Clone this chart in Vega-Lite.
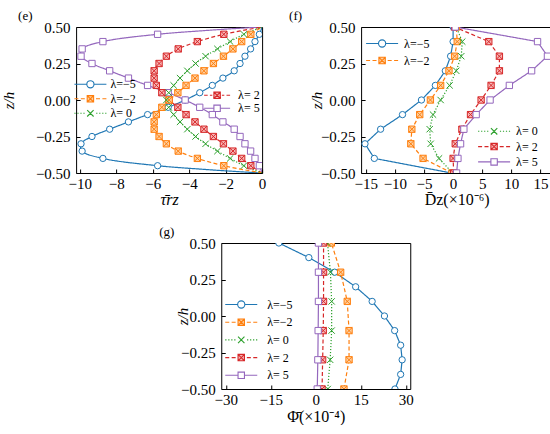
{
  "$schema": "https://vega.github.io/schema/vega-lite/v6.json",
  "padding": {"left": 0, "top": 9, "right": 0, "bottom": 0},
  "background": "white",
  "config": {
    "font": "Liberation Serif",
    "view": {"stroke": "black", "strokeWidth": 1},
    "axis": {
      "grid": false, "domain": false, "ticks": true, "tickSize": -4, "tickColor": "black", "tickWidth": 1,
      "labelFont": "Liberation Serif", "labelFontSize": 15, "labelColor": "black", "labelFlush": false, "labelOverlap": false,
      "titleFont": "Liberation Serif", "titleFontSize": 16, "titleFontWeight": "normal", "titleColor": "black"
    },
    "axisX": {"labelPadding": 7},
    "axisY": {"labelPadding": 10},
    "legend": {"labelFont": "Liberation Serif", "labelFontSize": 12, "labelColor": "black"},
    "title": {"font": "Liberation Serif", "fontSize": 13, "fontWeight": "normal", "color": "black", "anchor": "start", "frame": "group", "offset": -3}
  },
  "datasets": {
    "rows": [
      {"panel": "e", "lam": "λ=−5", "z": 0.5, "v": 0},
      {"panel": "e", "lam": "λ=−5", "z": 0.45, "v": -0.15},
      {"panel": "e", "lam": "λ=−5", "z": 0.4, "v": -0.39},
      {"panel": "e", "lam": "λ=−5", "z": 0.35, "v": -0.63},
      {"panel": "e", "lam": "λ=−5", "z": 0.3, "v": -0.94},
      {"panel": "e", "lam": "λ=−5", "z": 0.25, "v": -1.21},
      {"panel": "e", "lam": "λ=−5", "z": 0.2, "v": -1.53},
      {"panel": "e", "lam": "λ=−5", "z": 0.15, "v": -2.15},
      {"panel": "e", "lam": "λ=−5", "z": 0.1, "v": -2.73},
      {"panel": "e", "lam": "λ=−5", "z": 0.05, "v": -3.42},
      {"panel": "e", "lam": "λ=−5", "z": 0, "v": -4.22},
      {"panel": "e", "lam": "λ=−5", "z": -0.05, "v": -5.15},
      {"panel": "e", "lam": "λ=−5", "z": -0.1, "v": -6.28},
      {"panel": "e", "lam": "λ=−5", "z": -0.15, "v": -7.33},
      {"panel": "e", "lam": "λ=−5", "z": -0.2, "v": -8.36},
      {"panel": "e", "lam": "λ=−5", "z": -0.25, "v": -9.33},
      {"panel": "e", "lam": "λ=−5", "z": -0.3, "v": -9.93},
      {"panel": "e", "lam": "λ=−5", "z": -0.35, "v": -9.87},
      {"panel": "e", "lam": "λ=−5", "z": -0.4, "v": -8.73},
      {"panel": "e", "lam": "λ=−5", "z": -0.45, "v": -5.73},
      {"panel": "e", "lam": "λ=−5", "z": -0.475, "v": -3.2},
      {"panel": "e", "lam": "λ=−5", "z": -0.49, "v": -1.4},
      {"panel": "e", "lam": "λ=−5", "z": -0.5, "v": 0},
      {"panel": "e", "lam": "λ= 5", "z": 0.5, "v": 0},
      {"panel": "e", "lam": "λ= 5", "z": 0.49, "v": -1.4},
      {"panel": "e", "lam": "λ= 5", "z": 0.475, "v": -3.2},
      {"panel": "e", "lam": "λ= 5", "z": 0.45, "v": -5.73},
      {"panel": "e", "lam": "λ= 5", "z": 0.4, "v": -8.73},
      {"panel": "e", "lam": "λ= 5", "z": 0.35, "v": -9.87},
      {"panel": "e", "lam": "λ= 5", "z": 0.3, "v": -9.93},
      {"panel": "e", "lam": "λ= 5", "z": 0.25, "v": -9.33},
      {"panel": "e", "lam": "λ= 5", "z": 0.2, "v": -8.36},
      {"panel": "e", "lam": "λ= 5", "z": 0.15, "v": -7.33},
      {"panel": "e", "lam": "λ= 5", "z": 0.1, "v": -6.28},
      {"panel": "e", "lam": "λ= 5", "z": 0.05, "v": -5.15},
      {"panel": "e", "lam": "λ= 5", "z": 0, "v": -4.22},
      {"panel": "e", "lam": "λ= 5", "z": -0.05, "v": -3.42},
      {"panel": "e", "lam": "λ= 5", "z": -0.1, "v": -2.73},
      {"panel": "e", "lam": "λ= 5", "z": -0.15, "v": -2.15},
      {"panel": "e", "lam": "λ= 5", "z": -0.2, "v": -1.53},
      {"panel": "e", "lam": "λ= 5", "z": -0.25, "v": -1.21},
      {"panel": "e", "lam": "λ= 5", "z": -0.3, "v": -0.94},
      {"panel": "e", "lam": "λ= 5", "z": -0.35, "v": -0.63},
      {"panel": "e", "lam": "λ= 5", "z": -0.4, "v": -0.39},
      {"panel": "e", "lam": "λ= 5", "z": -0.45, "v": -0.15},
      {"panel": "e", "lam": "λ= 5", "z": -0.5, "v": 0},
      {"panel": "e", "lam": "λ= 2", "z": 0.5, "v": 0},
      {"panel": "e", "lam": "λ= 2", "z": 0.45, "v": -2.1},
      {"panel": "e", "lam": "λ= 2", "z": 0.4, "v": -3.55},
      {"panel": "e", "lam": "λ= 2", "z": 0.35, "v": -4.6},
      {"panel": "e", "lam": "λ= 2", "z": 0.3, "v": -5.25},
      {"panel": "e", "lam": "λ= 2", "z": 0.25, "v": -5.65},
      {"panel": "e", "lam": "λ= 2", "z": 0.2, "v": -5.92},
      {"panel": "e", "lam": "λ= 2", "z": 0.15, "v": -5.92},
      {"panel": "e", "lam": "λ= 2", "z": 0.1, "v": -5.8},
      {"panel": "e", "lam": "λ= 2", "z": 0.05, "v": -5.5},
      {"panel": "e", "lam": "λ= 2", "z": 0, "v": -5.1},
      {"panel": "e", "lam": "λ= 2", "z": -0.05, "v": -4.62},
      {"panel": "e", "lam": "λ= 2", "z": -0.1, "v": -4.17},
      {"panel": "e", "lam": "λ= 2", "z": -0.15, "v": -3.68},
      {"panel": "e", "lam": "λ= 2", "z": -0.2, "v": -3.19},
      {"panel": "e", "lam": "λ= 2", "z": -0.25, "v": -2.67},
      {"panel": "e", "lam": "λ= 2", "z": -0.3, "v": -2.12},
      {"panel": "e", "lam": "λ= 2", "z": -0.35, "v": -1.6},
      {"panel": "e", "lam": "λ= 2", "z": -0.4, "v": -1.12},
      {"panel": "e", "lam": "λ= 2", "z": -0.45, "v": -0.62},
      {"panel": "e", "lam": "λ= 2", "z": -0.5, "v": 0},
      {"panel": "e", "lam": "λ=−2", "z": 0.5, "v": 0},
      {"panel": "e", "lam": "λ=−2", "z": 0.45, "v": -0.62},
      {"panel": "e", "lam": "λ=−2", "z": 0.4, "v": -1.12},
      {"panel": "e", "lam": "λ=−2", "z": 0.35, "v": -1.6},
      {"panel": "e", "lam": "λ=−2", "z": 0.3, "v": -2.12},
      {"panel": "e", "lam": "λ=−2", "z": 0.25, "v": -2.67},
      {"panel": "e", "lam": "λ=−2", "z": 0.2, "v": -3.19},
      {"panel": "e", "lam": "λ=−2", "z": 0.15, "v": -3.68},
      {"panel": "e", "lam": "λ=−2", "z": 0.1, "v": -4.17},
      {"panel": "e", "lam": "λ=−2", "z": 0.05, "v": -4.62},
      {"panel": "e", "lam": "λ=−2", "z": 0, "v": -5.1},
      {"panel": "e", "lam": "λ=−2", "z": -0.05, "v": -5.5},
      {"panel": "e", "lam": "λ=−2", "z": -0.1, "v": -5.8},
      {"panel": "e", "lam": "λ=−2", "z": -0.15, "v": -5.92},
      {"panel": "e", "lam": "λ=−2", "z": -0.2, "v": -5.92},
      {"panel": "e", "lam": "λ=−2", "z": -0.25, "v": -5.65},
      {"panel": "e", "lam": "λ=−2", "z": -0.3, "v": -5.25},
      {"panel": "e", "lam": "λ=−2", "z": -0.35, "v": -4.6},
      {"panel": "e", "lam": "λ=−2", "z": -0.4, "v": -3.55},
      {"panel": "e", "lam": "λ=−2", "z": -0.45, "v": -2.1},
      {"panel": "e", "lam": "λ=−2", "z": -0.5, "v": 0},
      {"panel": "e", "lam": "λ= 0", "z": 0.5, "v": 0},
      {"panel": "e", "lam": "λ= 0", "z": 0.45, "v": -1.0},
      {"panel": "e", "lam": "λ= 0", "z": 0.4, "v": -1.75},
      {"panel": "e", "lam": "λ= 0", "z": 0.35, "v": -2.45},
      {"panel": "e", "lam": "λ= 0", "z": 0.3, "v": -3.1},
      {"panel": "e", "lam": "λ= 0", "z": 0.25, "v": -3.65},
      {"panel": "e", "lam": "λ= 0", "z": 0.2, "v": -4.1},
      {"panel": "e", "lam": "λ= 0", "z": 0.15, "v": -4.5},
      {"panel": "e", "lam": "λ= 0", "z": 0.1, "v": -4.85},
      {"panel": "e", "lam": "λ= 0", "z": 0.05, "v": -5.12},
      {"panel": "e", "lam": "λ= 0", "z": 0, "v": -5.25},
      {"panel": "e", "lam": "λ= 0", "z": -0.05, "v": -5.12},
      {"panel": "e", "lam": "λ= 0", "z": -0.1, "v": -4.85},
      {"panel": "e", "lam": "λ= 0", "z": -0.15, "v": -4.5},
      {"panel": "e", "lam": "λ= 0", "z": -0.2, "v": -4.1},
      {"panel": "e", "lam": "λ= 0", "z": -0.25, "v": -3.65},
      {"panel": "e", "lam": "λ= 0", "z": -0.3, "v": -3.1},
      {"panel": "e", "lam": "λ= 0", "z": -0.35, "v": -2.45},
      {"panel": "e", "lam": "λ= 0", "z": -0.4, "v": -1.75},
      {"panel": "e", "lam": "λ= 0", "z": -0.45, "v": -1.0},
      {"panel": "e", "lam": "λ= 0", "z": -0.5, "v": 0},

      {"panel": "f", "lam": "λ=−5", "z": 0.5, "v": 0.0},
      {"panel": "f", "lam": "λ=−5", "z": 0.4, "v": 0.0},
      {"panel": "f", "lam": "λ=−5", "z": 0.3, "v": -0.43},
      {"panel": "f", "lam": "λ=−5", "z": 0.2, "v": -1.34},
      {"panel": "f", "lam": "λ=−5", "z": 0.1, "v": -3.05},
      {"panel": "f", "lam": "λ=−5", "z": 0, "v": -5.44},
      {"panel": "f", "lam": "λ=−5", "z": -0.1, "v": -8.69},
      {"panel": "f", "lam": "λ=−5", "z": -0.2, "v": -12.45},
      {"panel": "f", "lam": "λ=−5", "z": -0.3, "v": -15.13},
      {"panel": "f", "lam": "λ=−5", "z": -0.4, "v": -13.53},
      {"panel": "f", "lam": "λ=−5", "z": -0.5, "v": -0.3},
      {"panel": "f", "lam": "λ=−2", "z": 0.5, "v": 0.54},
      {"panel": "f", "lam": "λ=−2", "z": 0.4, "v": 0.71},
      {"panel": "f", "lam": "λ=−2", "z": 0.3, "v": 0.26},
      {"panel": "f", "lam": "λ=−2", "z": 0.2, "v": -0.71},
      {"panel": "f", "lam": "λ=−2", "z": 0.1, "v": -2.14},
      {"panel": "f", "lam": "λ=−2", "z": 0, "v": -3.9},
      {"panel": "f", "lam": "λ=−2", "z": -0.1, "v": -5.73},
      {"panel": "f", "lam": "λ=−2", "z": -0.2, "v": -7.09},
      {"panel": "f", "lam": "λ=−2", "z": -0.3, "v": -7.26},
      {"panel": "f", "lam": "λ=−2", "z": -0.4, "v": -5.16},
      {"panel": "f", "lam": "λ=−2", "z": -0.5, "v": -0.2},
      {"panel": "f", "lam": "λ= 0", "z": 0.5, "v": 0.54},
      {"panel": "f", "lam": "λ= 0", "z": 0.4, "v": 1.57},
      {"panel": "f", "lam": "λ= 0", "z": 0.3, "v": 1.4},
      {"panel": "f", "lam": "λ= 0", "z": 0.2, "v": 0.54},
      {"panel": "f", "lam": "λ= 0", "z": 0.1, "v": -0.6},
      {"panel": "f", "lam": "λ= 0", "z": 0, "v": -2.14},
      {"panel": "f", "lam": "λ= 0", "z": -0.1, "v": -3.45},
      {"panel": "f", "lam": "λ= 0", "z": -0.2, "v": -4.02},
      {"panel": "f", "lam": "λ= 0", "z": -0.3, "v": -3.85},
      {"panel": "f", "lam": "λ= 0", "z": -0.4, "v": -2.42},
      {"panel": "f", "lam": "λ= 0", "z": -0.5, "v": -0.1},
      {"panel": "f", "lam": "λ= 2", "z": 0.5, "v": 0.26},
      {"panel": "f", "lam": "λ= 2", "z": 0.4, "v": 6.13},
      {"panel": "f", "lam": "λ= 2", "z": 0.3, "v": 7.95},
      {"panel": "f", "lam": "λ= 2", "z": 0.2, "v": 7.95},
      {"panel": "f", "lam": "λ= 2", "z": 0.1, "v": 6.52},
      {"panel": "f", "lam": "λ= 2", "z": 0, "v": 4.81},
      {"panel": "f", "lam": "λ= 2", "z": -0.1, "v": 2.99},
      {"panel": "f", "lam": "λ= 2", "z": -0.2, "v": 1.51},
      {"panel": "f", "lam": "λ= 2", "z": -0.3, "v": 0.37},
      {"panel": "f", "lam": "λ= 2", "z": -0.4, "v": 0.0},
      {"panel": "f", "lam": "λ= 2", "z": -0.5, "v": 0.1},
      {"panel": "f", "lam": "λ= 5", "z": 0.5, "v": 0.37},
      {"panel": "f", "lam": "λ= 5", "z": 0.4, "v": 14.5},
      {"panel": "f", "lam": "λ= 5", "z": 0.3, "v": 16.2},
      {"panel": "f", "lam": "λ= 5", "z": 0.2, "v": 13.48},
      {"panel": "f", "lam": "λ= 5", "z": 0.1, "v": 9.66},
      {"panel": "f", "lam": "λ= 5", "z": 0, "v": 6.35},
      {"panel": "f", "lam": "λ= 5", "z": -0.1, "v": 3.96},
      {"panel": "f", "lam": "λ= 5", "z": -0.2, "v": 1.85},
      {"panel": "f", "lam": "λ= 5", "z": -0.3, "v": 1.28},
      {"panel": "f", "lam": "λ= 5", "z": -0.4, "v": 0.83},
      {"panel": "f", "lam": "λ= 5", "z": -0.5, "v": 0.6},

      {"panel": "g", "lam": "λ=−5", "z": 0.5, "v": -12.3},
      {"panel": "g", "lam": "λ=−5", "z": 0.4, "v": -2.3},
      {"panel": "g", "lam": "λ=−5", "z": 0.3, "v": 6.3},
      {"panel": "g", "lam": "λ=−5", "z": 0.2, "v": 13.3},
      {"panel": "g", "lam": "λ=−5", "z": 0.1, "v": 18.8},
      {"panel": "g", "lam": "λ=−5", "z": 0, "v": 22.9},
      {"panel": "g", "lam": "λ=−5", "z": -0.1, "v": 26.3},
      {"panel": "g", "lam": "λ=−5", "z": -0.2, "v": 28.3},
      {"panel": "g", "lam": "λ=−5", "z": -0.3, "v": 28.8},
      {"panel": "g", "lam": "λ=−5", "z": -0.4, "v": 28.3},
      {"panel": "g", "lam": "λ=−5", "z": -0.5, "v": 26.4},
      {"panel": "g", "lam": "λ=−2", "z": 0.5, "v": 5.2},
      {"panel": "g", "lam": "λ=−2", "z": 0.3, "v": 8.3},
      {"panel": "g", "lam": "λ=−2", "z": 0.1, "v": 10.5},
      {"panel": "g", "lam": "λ=−2", "z": -0.1, "v": 11.1},
      {"panel": "g", "lam": "λ=−2", "z": -0.3, "v": 11.1},
      {"panel": "g", "lam": "λ=−2", "z": -0.5, "v": 9.4},
      {"panel": "g", "lam": "λ= 0", "z": 0.5, "v": 3.9},
      {"panel": "g", "lam": "λ= 0", "z": 0.3, "v": 4.9},
      {"panel": "g", "lam": "λ= 0", "z": 0.1, "v": 5.3},
      {"panel": "g", "lam": "λ= 0", "z": -0.1, "v": 5.3},
      {"panel": "g", "lam": "λ= 0", "z": -0.3, "v": 4.8},
      {"panel": "g", "lam": "λ= 0", "z": -0.5, "v": 4.0},
      {"panel": "g", "lam": "λ= 2", "z": 0.5, "v": 2.6},
      {"panel": "g", "lam": "λ= 2", "z": 0.3, "v": 2.6},
      {"panel": "g", "lam": "λ= 2", "z": 0.1, "v": 2.6},
      {"panel": "g", "lam": "λ= 2", "z": -0.1, "v": 2.5},
      {"panel": "g", "lam": "λ= 2", "z": -0.3, "v": 2.3},
      {"panel": "g", "lam": "λ= 2", "z": -0.5, "v": 2.1},
      {"panel": "g", "lam": "λ= 5", "z": 0.5, "v": 0.9},
      {"panel": "g", "lam": "λ= 5", "z": 0.3, "v": 0.9},
      {"panel": "g", "lam": "λ= 5", "z": 0.1, "v": 0.9},
      {"panel": "g", "lam": "λ= 5", "z": -0.1, "v": 0.8},
      {"panel": "g", "lam": "λ= 5", "z": -0.3, "v": 0.7},
      {"panel": "g", "lam": "λ= 5", "z": -0.5, "v": 0.5}
    ]
  },
  "data": {"name": "rows"},
  "spacing": 17,
  "center": true,
  "vconcat": [
    {
      "spacing": 14,
      "hconcat": [
        {
          "width": 186, "height": 146,
          "title": {"text": "(e)", "dx": -58},
          "transform": [{"filter": "datum.panel == 'e'"}],
          "encoding": {
            "x": {"field": "v", "type": "quantitative", "scale": {"domain": [-10.2, 0], "nice": false, "zero": false},
              "axis": {"values": [-10, -8, -6, -4, -2, 0], "title": "τ̄rz", "titleFontStyle": "italic", "titlePadding": 0,
                "encode": {"labels": {"update": {"dx": {"signal": "datum.value < 0 ? -4 : 0"}}}}}},
            "y": {"field": "z", "type": "quantitative", "scale": {"domain": [-0.5, 0.5], "nice": false, "zero": false},
              "axis": {"values": [-0.5, -0.25, 0, 0.25, 0.5], "format": ".2f", "title": "z/h", "titleFontStyle": "italic", "titleFontSize": 15, "titlePadding": 19}}
          },
          "layer": [
            {
              "mark": {"type": "line", "strokeWidth": 1.2, "clip": true, "interpolate": "catmull-rom"},
              "encoding": {
                "color": {"field": "lam", "type": "nominal", "scale": {"domain": ["λ=−5", "λ=−2", "λ= 0", "λ= 2", "λ= 5"], "range": ["#1f77b4", "#ff7f0e", "#2ca02c", "#d62728", "#9467bd"]}, "legend": null},
                "strokeDash": {"field": "lam", "type": "nominal", "scale": {"domain": ["λ=−5", "λ=−2", "λ= 0", "λ= 2", "λ= 5"], "range": [[1, 0], [4, 2.5], [1.2, 1.8], [4, 2.5], [1, 0]]}, "legend": null},
                "order": {"field": "z", "type": "quantitative"}
              }
            },
            {
              "transform": [{"filter": "abs(datum.z) < 0.46"}],
              "mark": {"type": "point", "filled": true, "size": 40, "strokeWidth": 1, "opacity": 1, "clip": true},
              "encoding": {
                "shape": {"field": "lam", "type": "nominal", "scale": {"domain": ["λ=−5", "λ=−2", "λ= 0", "λ= 2", "λ= 5"], "range": ["circle", "M-1,-1H1V1H-1ZM-1,-1L1,1M1,-1L-1,1", "M-1,-1L1,1M1,-1L-1,1", "M-1,-1H1V1H-1ZM-1,-1L1,1M1,-1L-1,1", "square"]}, "legend": null},
                "stroke": {"field": "lam", "type": "nominal", "scale": {"domain": ["λ=−5", "λ=−2", "λ= 0", "λ= 2", "λ= 5"], "range": ["#1f77b4", "#ff7f0e", "#2ca02c", "#d62728", "#9467bd"]}, "legend": null},
                "fill": {"field": "lam", "type": "nominal", "scale": {"domain": ["λ=−5", "λ=−2", "λ= 0", "λ= 2", "λ= 5"], "range": ["white", "#fdd0a2", "white", "#f7b6b6", "white"]}, "legend": null}
              }
            },
            {
              "transform": [{"filter": {"field": "lam", "oneOf": ["λ=−5", "λ=−2", "λ= 0"]}}],
              "mark": {"type": "point", "filled": true, "opacity": 0, "strokeWidth": 1.1},
              "encoding": {
                "shape": {"field": "lam", "type": "nominal", "scale": {"domain": ["λ=−5", "λ=−2", "λ= 0"], "range": [
                  "M-4,0H-0.9M0.9,0H4M0.9,0A0.9,0.9 0 1,1 -0.9,0A0.9,0.9 0 1,1 0.9,0Z",
                  "M-4,0H-3M-2.4,0H-1.4M1.4,0H2.4M3,0H4M-0.8,-0.8H0.8V0.8H-0.8ZM-0.8,-0.8L0.8,0.8M0.8,-0.8L-0.8,0.8",
                  "M-4,0H-3.7M-3.25,0H-2.95M-2.5,0H-2.2M-1.75,0H-1.45M1.45,0H1.75M2.2,0H2.5M2.95,0H3.25M3.7,0H4M-0.8,-0.8L0.8,0.8M0.8,-0.8L-0.8,0.8"]},
                  "legend": {"orient": "none", "legendX": 8.3, "legendY": 51.3, "direction": "vertical", "title": null, "symbolSize": 64, "symbolStrokeWidth": 1.1, "labelOffset": 14, "rowPadding": 2.5, "padding": 0, "encode": {"symbols": {"update": {"opacity": {"value": 1}}}}}},
                "stroke": {"field": "lam", "type": "nominal", "scale": {"domain": ["λ=−5", "λ=−2", "λ= 0"], "range": ["#1f77b4", "#ff7f0e", "#2ca02c"]},
                  "legend": {"orient": "none", "legendX": 8.3, "legendY": 51.3, "direction": "vertical", "title": null, "symbolSize": 64, "symbolStrokeWidth": 1.1, "labelOffset": 14, "rowPadding": 2.5, "padding": 0, "encode": {"symbols": {"update": {"opacity": {"value": 1}}}}}},
                "fill": {"field": "lam", "type": "nominal", "scale": {"domain": ["λ=−5", "λ=−2", "λ= 0"], "range": ["white", "#fdd0a2", "white"]},
                  "legend": {"orient": "none", "legendX": 8.3, "legendY": 51.3, "direction": "vertical", "title": null, "symbolSize": 64, "symbolStrokeWidth": 1.1, "labelOffset": 14, "rowPadding": 2.5, "padding": 0, "encode": {"symbols": {"update": {"opacity": {"value": 1}}}}}}
              }
            },
            {
              "transform": [{"filter": {"field": "lam", "oneOf": ["λ= 2", "λ= 5"]}}],
              "mark": {"type": "point", "filled": true, "opacity": 0, "strokeWidth": 1.1},
              "encoding": {
                "shape": {"field": "lam", "type": "nominal", "scale": {"domain": ["λ= 2", "λ= 5"], "range": [
                  "M-3.25,0H-2.35M-1.8,0H-1.2M1.2,0H1.8M2.35,0H3.25M-0.8,-0.8H0.8V0.8H-0.8ZM-0.8,-0.8L0.8,0.8M0.8,-0.8L-0.8,0.8",
                  "M-3.25,0H-0.8M0.8,0H3.25M-0.8,-0.8H0.8V0.8H-0.8Z"]},
                  "legend": {"orient": "none", "legendX": 135, "legendY": 62.3, "direction": "vertical", "title": null, "symbolSize": 64, "symbolStrokeWidth": 1.1, "labelOffset": 15, "rowPadding": 1, "padding": 0, "encode": {"symbols": {"update": {"opacity": {"value": 1}}}}}},
                "stroke": {"field": "lam", "type": "nominal", "scale": {"domain": ["λ= 2", "λ= 5"], "range": ["#d62728", "#9467bd"]},
                  "legend": {"orient": "none", "legendX": 135, "legendY": 62.3, "direction": "vertical", "title": null, "symbolSize": 64, "symbolStrokeWidth": 1.1, "labelOffset": 15, "rowPadding": 1, "padding": 0, "encode": {"symbols": {"update": {"opacity": {"value": 1}}}}}},
                "fill": {"field": "lam", "type": "nominal", "scale": {"domain": ["λ= 2", "λ= 5"], "range": ["#f7b6b6", "white"]},
                  "legend": {"orient": "none", "legendX": 135, "legendY": 62.3, "direction": "vertical", "title": null, "symbolSize": 64, "symbolStrokeWidth": 1.1, "labelOffset": 15, "rowPadding": 1, "padding": 0, "encode": {"symbols": {"update": {"opacity": {"value": 1}}}}}}
              }
            }
          ],
          "resolve": {
            "scale": {"color": "independent", "stroke": "independent", "fill": "independent", "shape": "independent", "strokeDash": "independent"},
            "legend": {"stroke": "independent", "fill": "independent", "shape": "independent"}
          }
        },
        {
          "width": 191, "height": 146,
          "title": {"text": "(f)", "dx": -72},
          "transform": [{"filter": "datum.panel == 'f'"}],
          "encoding": {
            "x": {"field": "v", "type": "quantitative", "scale": {"domain": [-15.8, 17], "nice": false, "zero": false},
              "axis": {"values": [-15, -10, -5, 0, 5, 10, 15], "title": "D̄z(×10⁻⁶)", "titlePadding": 0,
                "encode": {"labels": {"update": {"dx": {"signal": "datum.value < 0 ? -4 : 0"}}}}}},
            "y": {"field": "z", "type": "quantitative", "scale": {"domain": [-0.5, 0.5], "nice": false, "zero": false},
              "axis": {"values": [-0.5, -0.25, 0, 0.25, 0.5], "format": ".2f", "title": "z/h", "titleFontStyle": "italic", "titleFontSize": 15, "titlePadding": -4}}
          },
          "layer": [
            {
              "mark": {"type": "line", "strokeWidth": 1.2, "clip": true},
              "encoding": {
                "color": {"field": "lam", "type": "nominal", "scale": {"domain": ["λ=−5", "λ=−2", "λ= 0", "λ= 2", "λ= 5"], "range": ["#1f77b4", "#ff7f0e", "#2ca02c", "#d62728", "#9467bd"]}, "legend": null},
                "strokeDash": {"field": "lam", "type": "nominal", "scale": {"domain": ["λ=−5", "λ=−2", "λ= 0", "λ= 2", "λ= 5"], "range": [[1, 0], [4, 2.5], [1.2, 1.8], [4, 2.5], [1, 0]]}, "legend": null},
                "order": {"field": "z", "type": "quantitative"}
              }
            },
            {
              "mark": {"type": "point", "filled": true, "size": 40, "strokeWidth": 1, "opacity": 1, "clip": true},
              "encoding": {
                "shape": {"field": "lam", "type": "nominal", "scale": {"domain": ["λ=−5", "λ=−2", "λ= 0", "λ= 2", "λ= 5"], "range": ["circle", "M-1,-1H1V1H-1ZM-1,-1L1,1M1,-1L-1,1", "M-1,-1L1,1M1,-1L-1,1", "M-1,-1H1V1H-1ZM-1,-1L1,1M1,-1L-1,1", "square"]}, "legend": null},
                "stroke": {"field": "lam", "type": "nominal", "scale": {"domain": ["λ=−5", "λ=−2", "λ= 0", "λ= 2", "λ= 5"], "range": ["#1f77b4", "#ff7f0e", "#2ca02c", "#d62728", "#9467bd"]}, "legend": null},
                "fill": {"field": "lam", "type": "nominal", "scale": {"domain": ["λ=−5", "λ=−2", "λ= 0", "λ= 2", "λ= 5"], "range": ["white", "#fdd0a2", "white", "#f7b6b6", "white"]}, "legend": null}
              }
            },
            {
              "transform": [{"filter": {"field": "lam", "oneOf": ["λ=−5", "λ=−2"]}}],
              "mark": {"type": "point", "filled": true, "opacity": 0, "strokeWidth": 1.1},
              "encoding": {
                "shape": {"field": "lam", "type": "nominal", "scale": {"domain": ["λ=−5", "λ=−2"], "range": [
                  "M-4,0H-0.9M0.9,0H4M0.9,0A0.9,0.9 0 1,1 -0.9,0A0.9,0.9 0 1,1 0.9,0Z",
                  "M-4,0H-3M-2.4,0H-1.4M1.4,0H2.4M3,0H4M-0.8,-0.8H0.8V0.8H-0.8ZM-0.8,-0.8L0.8,0.8M0.8,-0.8L-0.8,0.8"]},
                  "legend": {"orient": "none", "legendX": 15, "legendY": 10.5, "direction": "vertical", "title": null, "symbolSize": 64, "symbolStrokeWidth": 1.1, "labelOffset": 16, "rowPadding": 5, "padding": 0, "encode": {"symbols": {"update": {"opacity": {"value": 1}}}}}},
                "stroke": {"field": "lam", "type": "nominal", "scale": {"domain": ["λ=−5", "λ=−2"], "range": ["#1f77b4", "#ff7f0e"]},
                  "legend": {"orient": "none", "legendX": 15, "legendY": 10.5, "direction": "vertical", "title": null, "symbolSize": 64, "symbolStrokeWidth": 1.1, "labelOffset": 16, "rowPadding": 5, "padding": 0, "encode": {"symbols": {"update": {"opacity": {"value": 1}}}}}},
                "fill": {"field": "lam", "type": "nominal", "scale": {"domain": ["λ=−5", "λ=−2"], "range": ["white", "#fdd0a2"]},
                  "legend": {"orient": "none", "legendX": 15, "legendY": 10.5, "direction": "vertical", "title": null, "symbolSize": 64, "symbolStrokeWidth": 1.1, "labelOffset": 16, "rowPadding": 5, "padding": 0, "encode": {"symbols": {"update": {"opacity": {"value": 1}}}}}}
              }
            },
            {
              "transform": [{"filter": {"field": "lam", "oneOf": ["λ= 0", "λ= 2", "λ= 5"]}}],
              "mark": {"type": "point", "filled": true, "opacity": 0, "strokeWidth": 1.1},
              "encoding": {
                "shape": {"field": "lam", "type": "nominal", "scale": {"domain": ["λ= 0", "λ= 2", "λ= 5"], "range": [
                  "M-4,0H-3.7M-3.25,0H-2.95M-2.5,0H-2.2M-1.75,0H-1.45M1.45,0H1.75M2.2,0H2.5M2.95,0H3.25M3.7,0H4M-0.8,-0.8L0.8,0.8M0.8,-0.8L-0.8,0.8",
                  "M-4,0H-3M-2.4,0H-1.4M1.4,0H2.4M3,0H4M-0.8,-0.8H0.8V0.8H-0.8ZM-0.8,-0.8L0.8,0.8M0.8,-0.8L-0.8,0.8",
                  "M-4,0H-0.8M0.8,0H4M-0.8,-0.8H0.8V0.8H-0.8Z"]},
                  "legend": {"orient": "none", "legendX": 127, "legendY": 98.3, "direction": "vertical", "title": null, "symbolSize": 64, "symbolStrokeWidth": 1.1, "labelOffset": 16, "rowPadding": 3.3, "padding": 0, "encode": {"symbols": {"update": {"opacity": {"value": 1}}}}}},
                "stroke": {"field": "lam", "type": "nominal", "scale": {"domain": ["λ= 0", "λ= 2", "λ= 5"], "range": ["#2ca02c", "#d62728", "#9467bd"]},
                  "legend": {"orient": "none", "legendX": 127, "legendY": 98.3, "direction": "vertical", "title": null, "symbolSize": 64, "symbolStrokeWidth": 1.1, "labelOffset": 16, "rowPadding": 3.3, "padding": 0, "encode": {"symbols": {"update": {"opacity": {"value": 1}}}}}},
                "fill": {"field": "lam", "type": "nominal", "scale": {"domain": ["λ= 0", "λ= 2", "λ= 5"], "range": ["white", "#f7b6b6", "white"]},
                  "legend": {"orient": "none", "legendX": 127, "legendY": 98.3, "direction": "vertical", "title": null, "symbolSize": 64, "symbolStrokeWidth": 1.1, "labelOffset": 16, "rowPadding": 3.3, "padding": 0, "encode": {"symbols": {"update": {"opacity": {"value": 1}}}}}}
              }
            }
          ],
          "resolve": {
            "scale": {"color": "independent", "stroke": "independent", "fill": "independent", "shape": "independent", "strokeDash": "independent"},
            "legend": {"stroke": "independent", "fill": "independent", "shape": "independent"}
          }
        }
      ]
    },
    {
      "width": 189, "height": 146,
      "title": {"text": "(g)", "dx": -62},
      "transform": [{"filter": "datum.panel == 'g'"}],
      "encoding": {
        "x": {"field": "v", "type": "quantitative", "scale": {"domain": [-31.5, 31.5], "nice": false, "zero": false},
          "axis": {"values": [-30, -15, 0, 15, 30], "title": "Φ̄(×10⁻⁴)", "titlePadding": 1,
            "encode": {"labels": {"update": {"dx": {"signal": "datum.value < 0 ? -4 : 0"}}}}}},
        "y": {"field": "z", "type": "quantitative", "scale": {"domain": [-0.5, 0.5], "nice": false, "zero": false},
          "axis": {"values": [-0.5, -0.25, 0, 0.25, 0.5], "format": ".2f", "title": "z/h", "titleFontStyle": "italic", "titleFontSize": 15, "titlePadding": -9.5}}
      },
      "layer": [
        {
          "mark": {"type": "line", "strokeWidth": 1.2, "clip": true},
          "encoding": {
            "color": {"field": "lam", "type": "nominal", "scale": {"domain": ["λ=−5", "λ=−2", "λ= 0", "λ= 2", "λ= 5"], "range": ["#1f77b4", "#ff7f0e", "#2ca02c", "#d62728", "#9467bd"]}, "legend": null},
            "strokeDash": {"field": "lam", "type": "nominal", "scale": {"domain": ["λ=−5", "λ=−2", "λ= 0", "λ= 2", "λ= 5"], "range": [[1, 0], [4, 2.5], [1.2, 1.8], [4, 2.5], [1, 0]]}, "legend": null},
            "order": {"field": "z", "type": "quantitative"}
          }
        },
        {
          "mark": {"type": "point", "filled": true, "size": 40, "strokeWidth": 1, "opacity": 1, "clip": true},
          "encoding": {
            "shape": {"field": "lam", "type": "nominal", "scale": {"domain": ["λ=−5", "λ=−2", "λ= 0", "λ= 2", "λ= 5"], "range": ["circle", "M-1,-1H1V1H-1ZM-1,-1L1,1M1,-1L-1,1", "M-1,-1L1,1M1,-1L-1,1", "M-1,-1H1V1H-1ZM-1,-1L1,1M1,-1L-1,1", "square"]}, "legend": null},
            "stroke": {"field": "lam", "type": "nominal", "scale": {"domain": ["λ=−5", "λ=−2", "λ= 0", "λ= 2", "λ= 5"], "range": ["#1f77b4", "#ff7f0e", "#2ca02c", "#d62728", "#9467bd"]}, "legend": null},
            "fill": {"field": "lam", "type": "nominal", "scale": {"domain": ["λ=−5", "λ=−2", "λ= 0", "λ= 2", "λ= 5"], "range": ["white", "#fdd0a2", "white", "#f7b6b6", "white"]}, "legend": null}
          }
        },
        {
          "mark": {"type": "point", "filled": true, "opacity": 0, "strokeWidth": 1.1},
          "encoding": {
            "shape": {"field": "lam", "type": "nominal", "scale": {"domain": ["λ=−5", "λ=−2", "λ= 0", "λ= 2", "λ= 5"], "range": [
              "M-4,0H-0.9M0.9,0H4M0.9,0A0.9,0.9 0 1,1 -0.9,0A0.9,0.9 0 1,1 0.9,0Z",
              "M-4,0H-3M-2.4,0H-1.4M1.4,0H2.4M3,0H4M-0.8,-0.8H0.8V0.8H-0.8ZM-0.8,-0.8L0.8,0.8M0.8,-0.8L-0.8,0.8",
              "M-4,0H-3.7M-3.25,0H-2.95M-2.5,0H-2.2M-1.75,0H-1.45M1.45,0H1.75M2.2,0H2.5M2.95,0H3.25M3.7,0H4M-0.8,-0.8L0.8,0.8M0.8,-0.8L-0.8,0.8",
              "M-4,0H-3M-2.4,0H-1.4M1.4,0H2.4M3,0H4M-0.8,-0.8H0.8V0.8H-0.8ZM-0.8,-0.8L0.8,0.8M0.8,-0.8L-0.8,0.8",
              "M-4,0H-0.8M0.8,0H4M-0.8,-0.8H0.8V0.8H-0.8Z"]},
              "legend": {"orient": "none", "legendX": 14, "legendY": 55.5, "direction": "vertical", "title": null, "symbolSize": 64, "symbolStrokeWidth": 1.1, "labelOffset": 20, "rowPadding": 5.7, "padding": 0, "encode": {"symbols": {"update": {"opacity": {"value": 1}}}}}},
            "stroke": {"field": "lam", "type": "nominal", "scale": {"domain": ["λ=−5", "λ=−2", "λ= 0", "λ= 2", "λ= 5"], "range": ["#1f77b4", "#ff7f0e", "#2ca02c", "#d62728", "#9467bd"]},
              "legend": {"orient": "none", "legendX": 14, "legendY": 55.5, "direction": "vertical", "title": null, "symbolSize": 64, "symbolStrokeWidth": 1.1, "labelOffset": 20, "rowPadding": 5.7, "padding": 0, "encode": {"symbols": {"update": {"opacity": {"value": 1}}}}}},
            "fill": {"field": "lam", "type": "nominal", "scale": {"domain": ["λ=−5", "λ=−2", "λ= 0", "λ= 2", "λ= 5"], "range": ["white", "#fdd0a2", "white", "#f7b6b6", "white"]},
              "legend": {"orient": "none", "legendX": 14, "legendY": 55.5, "direction": "vertical", "title": null, "symbolSize": 64, "symbolStrokeWidth": 1.1, "labelOffset": 20, "rowPadding": 5.7, "padding": 0, "encode": {"symbols": {"update": {"opacity": {"value": 1}}}}}}
          }
        }
      ],
      "resolve": {
        "scale": {"color": "independent", "stroke": "independent", "fill": "independent", "shape": "independent", "strokeDash": "independent"},
        "legend": {"stroke": "independent", "fill": "independent", "shape": "independent"}
      }
    }
  ]
}
